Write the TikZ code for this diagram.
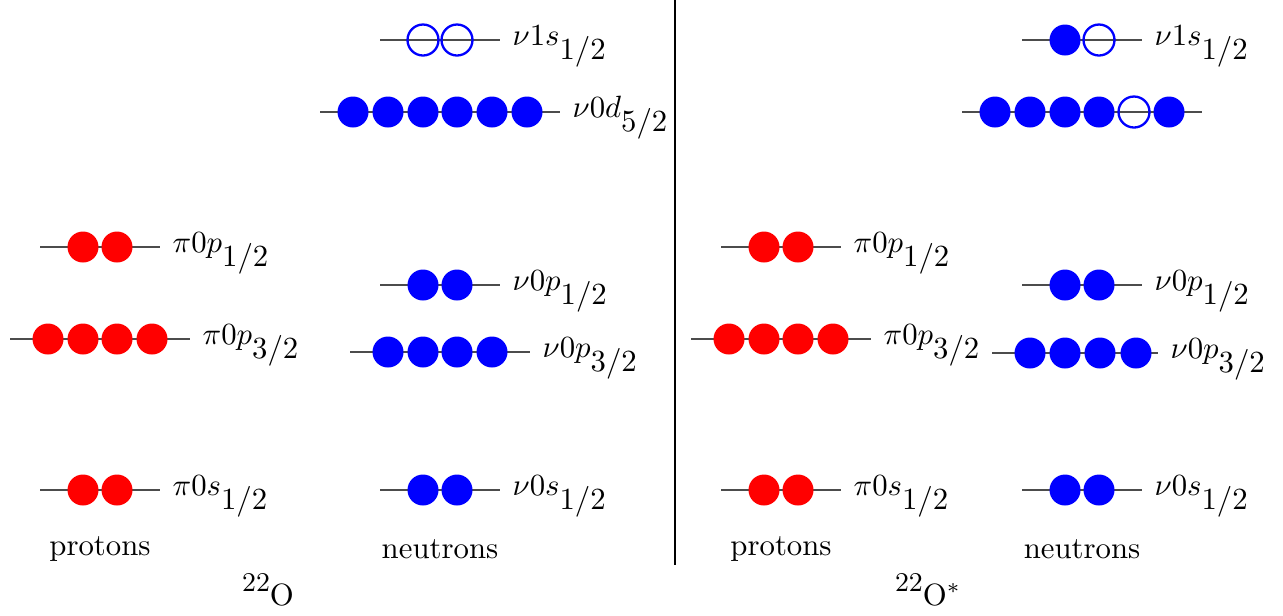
\documentclass[tikz,border=0pt]{standalone}
\newcommand\subs[1]{\raisebox{-4.6pt}{\fontsize{9.8}{11}\selectfont$#1$}}
\newcommand\sups[1]{\raisebox{4.5pt}{\fontsize{8.8}{10}\selectfont #1}}
\definecolor{nblue}{RGB}{0,0,255}
\definecolor{pred}{RGB}{255,0,0}
\tikzset{
  lvl/.style={draw=black!70, line width=0.45pt},
  occ/.style={fill},
  emp/.style={draw, line width=0.75pt},
  lab/.style={anchor=base west, inner sep=0pt},
}
% #1 name, #2 centre x, #3 y, #4 half length, #5 colour, #6 offset/style list
\newcommand\shell[6]{%
  \draw[lvl] (#2-#4,#3) -- (#2+#4,#3);
  \foreach \o/\s in {#6} { \path[#5,\s] (#2+\o,#3) circle[radius=15.5]; }
  \coordinate (#1) at (#2+#4+12,#3+5);
}
\begin{document}
\begin{tikzpicture}[x=0.325pt,y=-0.325pt]
\useasboundingbox (0,0) rectangle (1283,615);
% divider
\coordinate (vt) at (675,0);
\coordinate (vb) at (675,565);
\draw[line width=0.6pt] (vt) -- (vb);

% ---------- 22O ----------
\shell{a1}{100}{247}{60}{pred}{-17/occ,17/occ}
\node[lab] (la1) at (a1) {$\pi0p$\subs{1/2}};
\shell{a2}{100}{339}{90}{pred}{-52/occ,-17/occ,17/occ,52/occ}
\node[lab] (la2) at (a2) {$\pi0p$\subs{3/2}};
\shell{a3}{100}{490}{60}{pred}{-17/occ,17/occ}
\node[lab] (la3) at (a3) {$\pi0s$\subs{1/2}};

\shell{b1}{440}{40}{60}{nblue}{-17/emp,17/emp}
\node[lab] (lb1) at (b1) {$\nu1s$\subs{1/2}};
\shell{b2}{440}{112}{120}{nblue}{-87/occ,-52/occ,-17/occ,17/occ,52/occ,87/occ}
\node[lab] (lb2) at (b2) {$\nu0d$\subs{5/2}};
\shell{b3}{440}{285}{60}{nblue}{-17/occ,17/occ}
\node[lab] (lb3) at (b3) {$\nu0p$\subs{1/2}};
\shell{b4}{440}{352}{90}{nblue}{-52/occ,-17/occ,17/occ,52/occ}
\node[lab] (lb4) at (b4) {$\nu0p$\subs{3/2}};
\shell{b5}{440}{490}{60}{nblue}{-17/occ,17/occ}
\node[lab] (lb5) at (b5) {$\nu0s$\subs{1/2}};

\node (pl) at (100,549) {protons};
\node (nl) at (440,549) {neutrons};
\node[anchor=base] (t1) at (268,605) {\sups{22}O};

% ---------- 22O* ----------
\shell{c1}{781}{247}{60}{pred}{-17/occ,17/occ}
\node[lab] (lc1) at (c1) {$\pi0p$\subs{1/2}};
\shell{c2}{781}{339}{90}{pred}{-52/occ,-17/occ,17/occ,52/occ}
\node[lab] (lc2) at (c2) {$\pi0p$\subs{3/2}};
\shell{c3}{781}{490}{60}{pred}{-17/occ,17/occ}
\node[lab] (lc3) at (c3) {$\pi0s$\subs{1/2}};

\shell{d1}{1082}{40}{60}{nblue}{-17/occ,17/emp}
\node[lab] (ld1) at (d1) {$\nu1s$\subs{1/2}};
\shell{d2}{1082}{112}{120}{nblue}{-87/occ,-52/occ,-17/occ,17/occ,52/emp,87/occ}
\shell{d3}{1082}{285}{60}{nblue}{-17/occ,17/occ}
\node[lab] (ld3) at (d3) {$\nu0p$\subs{1/2}};
\shell{d4}{1075}{353}{83}{nblue}{-45/occ,-10/occ,25/occ,61/occ}
\node[lab] (ld4) at (d4) {$\nu0p$\subs{3/2}};
\shell{d5}{1082}{490}{60}{nblue}{-17/occ,17/occ}
\node[lab] (ld5) at (d5) {$\nu0s$\subs{1/2}};

\node (pr) at (781,549) {protons};
\node (nr) at (1082,549) {neutrons};
\node[anchor=base] (t2) at (928,605) {\sups{22}O$^*$};
\end{tikzpicture}
\end{document}
